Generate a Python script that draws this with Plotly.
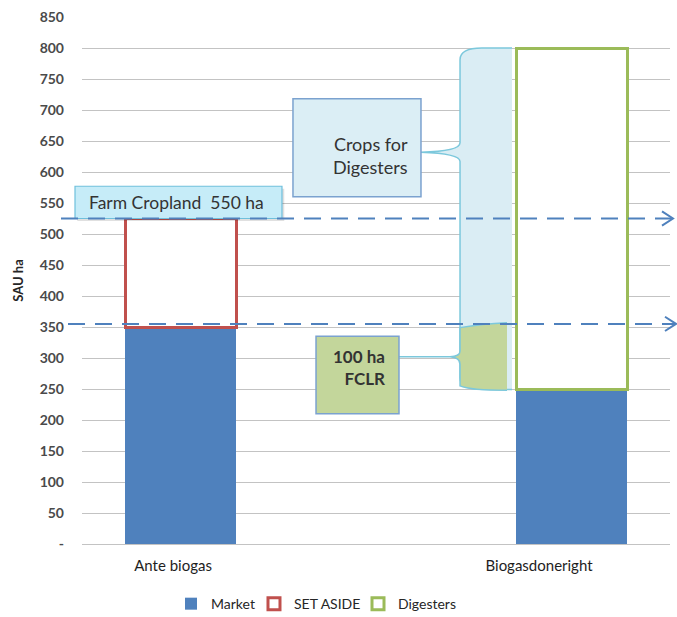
import plotly.graph_objects as go

# ---- data -------------------------------------------------------------
scenarios = ["Ante biogas", "Biogasdoneright"]
market = [350, 250]
set_aside = [175, None]
digesters = [None, 550]

y_ticks = list(range(0, 851, 50))
y_tick_text = ["<b>-</b>"] + [f"<b>{v}</b>" for v in y_ticks[1:]]

farm_cropland = 525      # upper reference line (farm cropland)
fclr_level = 355         # lower reference line (food-crop land retained)

# ---- colours ----------------------------------------------------------
BLUE = "#4f81bd"
RED = "#c0504d"
GREEN = "#9bbb59"
GRID = "#c3c3c3"
DASH = "#4f81bd"
BRACE_LINE = "#7cc8dc"
BRACE_BLUE = "#daedf4"
BRACE_GREEN = "#c3d69b"
BOX_EDGE = "#7ba2cf"
TEXT = "#333333"
FONT = "Lato"

bar_w = 0.284
xpos = [0, 1]

fig = go.Figure()
fig.add_bar(x=xpos, y=market, name="Market", width=bar_w, legend="legend",
            marker=dict(color=BLUE, line=dict(width=0)))
fig.add_bar(x=xpos, y=set_aside, name="SET ASIDE", width=bar_w, legend="legend2",
            marker=dict(color="white", line=dict(color=RED, width=3)))
fig.add_bar(x=xpos, y=digesters, name="Digesters", width=bar_w, legend="legend3",
            marker=dict(color="white", line=dict(color=GREEN, width=3)))

shapes = []

# brace for the crops grown for the digesters (250 -> 800)
lo, hi = 250, 800
x_in, x_out, x_tip = 0.6429, 0.7313, 0.5765
mid = 626
blue_brace = (f"M {x_out},{hi} L 0.680,{hi} Q {x_in},{hi} {x_in},{hi-19} "
              f"L {x_in},{mid+21} Q {x_in},{mid+7} {x_tip},{mid+6} "
              f"Q {x_in},{mid+4} {x_in},{mid-9} L {x_in},{lo+18} "
              f"Q {x_in},{lo} 0.680,{lo-1} L {x_out},{lo-1}")
shapes.append(dict(type="path", xref="paper", yref="y", path=blue_brace + " Z",
                   fillcolor=BRACE_BLUE, line=dict(width=0), layer="above"))
shapes.append(dict(type="path", xref="paper", yref="y", path=blue_brace,
                   fillcolor="rgba(0,0,0,0)", line=dict(color=BRACE_LINE, width=1.5),
                   layer="above"))

# brace for the 100 ha of food-crop land retained (250 -> 355)
g_out, g_tip = 0.7228, 0.6259
gmid = 302
green_brace = (f"M {g_out},{fclr_level+2} Q 0.68,{fclr_level} {x_in},{fclr_level-6} "
               f"L {x_in},{gmid+9} Q {x_in},{gmid+1} {g_tip},{gmid} "
               f"Q {x_in},{gmid-1} {x_in},{gmid-12} L {x_in},{lo+5} "
               f"Q 0.66,{lo-2} {g_out},{lo-2}")
shapes.append(dict(type="path", xref="paper", yref="y", path=green_brace + " Z",
                   fillcolor=BRACE_GREEN, line=dict(width=0), layer="above"))
shapes.append(dict(type="path", xref="paper", yref="y", path=green_brace,
                   fillcolor="rgba(0,0,0,0)", line=dict(color=BRACE_LINE, width=1.5),
                   layer="above"))
shapes.append(dict(type="line", xref="paper", yref="y", x0=0.5391, x1=g_tip,
                   y0=gmid, y1=gmid, line=dict(color=BRACE_LINE, width=1.5),
                   layer="above"))

# callout boxes
shapes.append(dict(type="rect", xref="paper", yref="y", x0=0.3588, x1=0.5765,
                   y0=560, y1=718, fillcolor="#dbeef5",
                   line=dict(color=BOX_EDGE, width=1.5), layer="above"))
shapes.append(dict(type="rect", xref="paper", yref="y", x0=0.3980, x1=0.5391,
                   y0=210, y1=335, fillcolor=BRACE_GREEN,
                   line=dict(color=BOX_EDGE, width=1.5), layer="above"))
shapes.append(dict(type="rect", xref="paper", yref="y", x0=-0.008, x1=0.344,
                   y0=521, y1=573, fillcolor="rgba(0,0,0,0.12)",
                   line=dict(width=0), layer="above"))
shapes.append(dict(type="rect", xref="paper", yref="y", x0=-0.0119, x1=0.3401,
                   y0=farm_cropland, y1=577, fillcolor="#c6ecf8",
                   line=dict(color="#6fc0dc", width=1.2), layer="above"))

# dashed reference lines with open arrow heads
for level, x_start, x_tip_r in [(farm_cropland, -0.0357, 1.0051),
                                (fclr_level, -0.0238, 1.0102)]:
    shapes.append(dict(type="line", xref="paper", yref="y", x0=x_start,
                       x1=x_tip_r - 0.002, y0=level, y1=level,
                       line=dict(color=DASH, width=2, dash="17px,10px"),
                       layer="above"))
    shapes.append(dict(type="path", xref="paper", yref="y",
                       path=(f"M {x_tip_r-0.0187},{level+11.5} L {x_tip_r},{level} "
                             f"L {x_tip_r-0.0187},{level-11.5}"),
                       fillcolor="rgba(0,0,0,0)", line=dict(color=DASH, width=2),
                       layer="above"))

annotations = [
    dict(text="Farm Cropland  550 ha", xref="paper", yref="y", x=0.0085, y=551.5,
         xanchor="left", yanchor="middle", showarrow=False,
         font=dict(family=FONT, size=17.5, color=TEXT)),
    dict(text="Crops for<br>Digesters", xref="paper", yref="y", x=0.5578, y=627,
         xanchor="right", yanchor="middle", align="right", showarrow=False,
         font=dict(family=FONT, size=18, color=TEXT)),
    dict(text="<b>100 ha<br>FCLR</b>", xref="paper", yref="y", x=0.519, y=285,
         xanchor="right", yanchor="middle", align="right", showarrow=False,
         font=dict(family=FONT, size=17, color=TEXT)),
]

legend_style = dict(orientation="h", xanchor="left", y=-0.114, yanchor="middle",
                    font=dict(family=FONT, size=14, color="#262626"),
                    itemclick=False, bgcolor="rgba(0,0,0,0)")

fig.update_layout(
    width=677, height=617,
    margin=dict(l=82, r=7, t=17, b=73, autoexpand=False),
    paper_bgcolor="white", plot_bgcolor="white",
    barmode="stack",
    showlegend=True,
    legend=dict(x=0.1514, **legend_style),
    legend2=dict(x=0.2925, **legend_style),
    legend3=dict(x=0.4694, **legend_style),
    shapes=shapes,
    annotations=annotations,
    font=dict(family=FONT),
)
fig.update_xaxes(range=[-0.253, 1.251], tickvals=[-0.02, 0.916], ticktext=scenarios,
                 showgrid=False, zeroline=False, showline=False, ticks="",
                 ticklabelstandoff=11,
                 tickfont=dict(family=FONT, size=15, color="#1e1e1e"))
fig.update_yaxes(range=[0, 850], tickvals=y_ticks, ticktext=y_tick_text,
                 showgrid=True, gridcolor=GRID, gridwidth=1.2,
                 zeroline=True, zerolinecolor=GRID, zerolinewidth=1.2,
                 showline=False, ticks="", ticklabelstandoff=17,
                 tickfont=dict(family=FONT, size=14, color="#4a4a4a"),
                 title=dict(text="<b>SAU ha</b>", standoff=13,
                            font=dict(family=FONT, size=13, color="#262626")))

fig.write_html("out.html")
